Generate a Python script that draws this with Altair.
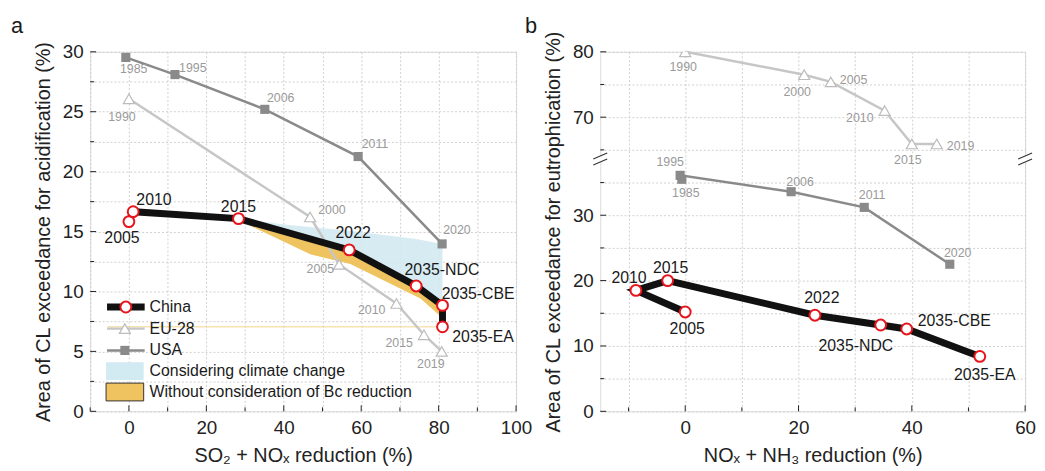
import altair as alt
import pandas as pd

# ---------------- data ----------------
# Panel a : acidification
a_china_labels = ["2005", "2010", "2015", "2022", "2035-NDC", "2035-CBE", "2035-EA"]
a_china_x = [0.0, 1.1, 28.3, 56.9, 74.2, 81.0, 81.0]
a_china_y = [15.83, 16.66, 16.08, 13.47, 10.46, 8.84, 7.05]

a_eu_years = ["1990", "2000", "2005", "2010", "2015", "2019"]
a_eu_x = [0.0, 46.8, 54.3, 69.1, 76.2, 80.8]
a_eu_y = [26.08, 16.22, 12.26, 9.0, 6.39, 5.0]

a_usa_years = ["1985", "1995", "2006", "2011", "2020"]
a_usa_x = [-0.8, 11.9, 35.1, 59.2, 80.9]
a_usa_y = [29.53, 28.1, 25.2, 21.26, 13.97]

# shaded ranges
climate_x = [28.3, 40.0, 56.9, 74.2, 81.0]
climate_top = [16.08, 15.6, 15.07, 14.38, 13.97]
climate_bot = [16.08, 15.01, 13.47, 10.46, 8.84]

bc_x = [1.1, 28.3, 47.0, 57.2, 75.3, 81.0]
bc_top = [16.95, 16.2, 14.37, 13.45, 10.2, 8.84]
bc_bot = [16.6, 15.95, 13.08, 12.3, 9.42, 7.78]

# Panel b : eutrophication
b_china_labels = ["2005", "2010", "2015", "2022", "2035-NDC", "2035-CBE", "2035-EA"]
b_china_x = [0.0, -8.7, -3.1, 22.9, 34.5, 39.1, 52.0]
b_china_y = [15.2, 18.5, 20.0, 14.7, 13.2, 12.6, 8.4]

b_eu_years = ["1990", "2000", "2005", "2010", "2015", "2019"]
b_eu_x = [0.0, 21.0, 25.7, 35.2, 40.0, 44.4]
b_eu_y = [80.0, 76.5, 75.4, 71.0, 65.9, 65.9]

b_usa_years = ["1985", "1995", "2006", "2011", "2020"]
b_usa_x = [-0.6, -0.9, 18.7, 31.6, 46.7]
b_usa_y = [35.5, 36.1, 33.6, 31.2, 22.5]

legend_labels = ["China", "EU-28", "USA", "Considering climate change",
                 "Without consideration of Bc reduction"]

# label offsets (pixels) -- layout only
a_china_off = [(-7, 17), (21, -12), (0, -12), (4, -17), (26, -16), (36, -11), (41, 10)]
a_eu_off = [(-7, 18), (22, -7), (-19, 5), (-25, 7), (-25, 8), (-11, 13)]
a_usa_off = [(8, 12), (18, -7), (16, -11), (17, -13), (15, -14)]
b_china_off = [(2, 17), (-7, -12), (3, -13), (7, -17), (-25, 21), (48, -8), (5, 19)]
b_eu_off = [(-2, 15), (-7, 18), (23, -2), (-25, 7), (-4, 16), (24, 2)]
b_usa_off = [(4, 14), (-10, -13), (9, -10), (8, -12), (8, -11)]

# ---------------- styling ----------------
FONT = "Liberation Sans"
W_A, W_B, H = 430, 429, 363
BREAK_OFFSET = 25          # upper segment of panel b: value - 25
BREAK_AT = 38.6            # continuous position of the axis break
C_EU = "#c6c6c6"
C_USA = "#8a8a8a"
C_LAB = "#9a9a9a"
C_RED = "#e8141c"
C_BLUE = "#d2eaf1"
C_ORANGE = "#efc35f"


def frame(x, y, labels):
    return pd.DataFrame({"x": x, "y": y, "label": labels, "i": list(range(len(x)))})


def grid_axis(values, label_expr, title):
    return alt.Axis(values=values, labelExpr=label_expr, title=title,
                    grid=True, gridColor="#cfcfcf", gridDash=[2, 2], gridWidth=1,
                    ticks=False, domain=False, labelOverlap=False, labelFlush=False,
                    labelFontSize=19, titleFontSize=20, labelPadding=7,
                    titlePadding=9, labelColor="#222", titleColor="#222",
                    titleFontWeight="normal", labelFont=FONT, titleFont=FONT)


# ---------------- panel a ----------------
xa_scale = alt.Scale(domain=[-10, 100], nice=False, zero=False)
ya_scale = alt.Scale(domain=[0, 30], nice=False, zero=False)
xa_axis = grid_axis(list(range(-10, 101, 10)),
                    "datum.value % 20 == 0 ? datum.label : ''",
                    "SO₂ + NOₓ reduction (%)")
ya_axis = grid_axis([i * 2.5 for i in range(13)],
                    "datum.value % 5 == 0 ? datum.label : ''",
                    "Area of CL exceedance for acidification (%)")


def XA(f):
    return alt.X(f, type="quantitative", scale=xa_scale, axis=xa_axis)


def YA(f):
    return alt.Y(f, type="quantitative", scale=ya_scale, axis=ya_axis)


a_china = frame(a_china_x, a_china_y, a_china_labels)
a_eu = frame(a_eu_x, a_eu_y, a_eu_years)
a_usa = frame(a_usa_x, a_usa_y, a_usa_years)
climate = pd.DataFrame({"x": climate_x, "top": climate_top, "bot": climate_bot})
bc = pd.DataFrame({"x": bc_x, "top": bc_top, "bot": bc_bot})

blue = alt.Chart(climate).mark_area(color=C_BLUE, opacity=0.9).encode(
    x=XA("x"), y=YA("top"), y2="bot")
orange = alt.Chart(bc).mark_area(color=C_ORANGE).encode(
    x=XA("x"), y=YA("bot"), y2="top")
ea_df = pd.DataFrame({"x0": [-5.5], "x": [a_china_x[-1]], "y": [a_china_y[-1]]})
ea_rule = alt.Chart(ea_df).mark_rule(color="#f3d38c", strokeWidth=1).encode(
    x=XA("x0"), x2="x", y=YA("y"))


def series(df, offs, xenc, yenc, kind, shift=False, clip_pts=False):
    def base(d):
        c = alt.Chart(d)
        if shift:
            c = c.transform_calculate(
                yc=f"datum.y >= 50 ? datum.y - {BREAK_OFFSET} : datum.y")
        return c
    yf = "yc" if shift else "y"
    enc = dict(x=xenc("x"), y=yenc(yf))
    if kind == "eu":
        line = base(df).mark_line(color=C_EU, strokeWidth=2.5)
        pts = base(df).mark_point(shape="triangle-up", filled=True, fill="white",
                                  stroke="#bcbcbc", strokeWidth=1.2, size=125, opacity=1,
                                  clip=clip_pts)
        tstyle = dict(font=FONT, fontSize=12.5, color=C_LAB, baseline="middle")
    elif kind == "usa":
        line = base(df).mark_line(color=C_USA, strokeWidth=2.5)
        pts = base(df).mark_square(color=C_USA, size=85, opacity=1)
        tstyle = dict(font=FONT, fontSize=12.5, color=C_LAB, baseline="middle")
    else:
        line = base(df).mark_line(color="#111111", strokeWidth=7)
        pts = base(df).mark_point(shape="circle", filled=True, fill="white",
                                  stroke=C_RED, strokeWidth=2, size=120, opacity=1)
        tstyle = dict(font=FONT, fontSize=16, color="#1a1a1a", baseline="middle")
    line = line.encode(order=alt.Order("i:Q"), **enc)
    pts = pts.encode(**enc)
    texts = []
    for k, (dx, dy) in enumerate(offs):
        row = df.iloc[[k]]
        texts.append(base(row).mark_text(dx=dx, dy=dy, **tstyle).encode(
            text="label:N", **enc))
    return line, pts, texts


eu_l, eu_p, eu_t = series(a_eu, a_eu_off, XA, YA, "eu")
us_l, us_p, us_t = series(a_usa, a_usa_off, XA, YA, "usa")
cn_l, cn_p, cn_t = series(a_china, a_china_off, XA, YA, "china")


# inward ticks
def tick_layers(xvals_major, xvals_minor, yvals_major, yvals_minor, xenc, yenc):
    layers = []
    for vals, ln in ((xvals_major, 6), (xvals_minor, 4)):
        layers.append(alt.Chart(pd.DataFrame({"v": vals})).mark_rule(color="#222").encode(
            x=xenc("v"), y=alt.value(H), y2=alt.value(H - ln)))
    for vals, ln in ((yvals_major, 6), (yvals_minor, 4)):
        layers.append(alt.Chart(pd.DataFrame({"v": vals})).mark_rule(color="#222").encode(
            y=yenc("v"), x=alt.value(0), x2=alt.value(ln)))
    return layers


a_ticks = tick_layers([0, 20, 40, 60, 80, 100], [-10, 10, 30, 50, 70, 90],
                      [0, 5, 10, 15, 20, 25, 30], [2.5, 7.5, 12.5, 17.5, 22.5, 27.5],
                      XA, YA)

# legend (drawn inside panel a)
one = pd.DataFrame({"k": [0]})
rows = [257.7, 279.5, 301.5, 322.5, 343.5]
leg = []
leg.append(alt.Chart(one).mark_rule(color="#111111", strokeWidth=7).encode(
    x=alt.value(17), x2=alt.value(55), y=alt.value(rows[0])))
leg.append(alt.Chart(one).mark_point(shape="circle", filled=True, fill="white", stroke=C_RED,
                                     strokeWidth=2, size=120, opacity=1).encode(
    x=alt.value(36), y=alt.value(rows[0])))
leg.append(alt.Chart(one).mark_rule(color=C_EU, strokeWidth=2.5).encode(
    x=alt.value(17), x2=alt.value(55), y=alt.value(rows[1])))
leg.append(alt.Chart(one).mark_point(shape="triangle-up", filled=True, fill="white",
                                     stroke="#bcbcbc", strokeWidth=1.2, size=125, opacity=1).encode(
    x=alt.value(35), y=alt.value(rows[1])))
leg.append(alt.Chart(one).mark_rule(color=C_USA, strokeWidth=2.5).encode(
    x=alt.value(17), x2=alt.value(55), y=alt.value(rows[2])))
leg.append(alt.Chart(one).mark_square(color=C_USA, size=85, opacity=1).encode(
    x=alt.value(35), y=alt.value(rows[2])))
leg.append(alt.Chart(one).mark_rect(color=C_BLUE).encode(
    x=alt.value(16), x2=alt.value(54), y=alt.value(rows[3] - 9), y2=alt.value(rows[3] + 9)))
leg.append(alt.Chart(one).mark_rect(color=C_ORANGE, stroke="#333", strokeWidth=1).encode(
    x=alt.value(16), x2=alt.value(54), y=alt.value(rows[4] - 9), y2=alt.value(rows[4] + 9)))
for lab, yy in zip(legend_labels, rows):
    leg.append(alt.Chart(one).mark_text(font=FONT, fontSize=16, color="#1a1a1a", align="left",
                                        baseline="middle", text=lab).encode(
        x=alt.value(60), y=alt.value(yy)))

tag_a = alt.Chart(one).mark_text(font=FONT, fontSize=22, color="#1a1a1a", text="a",
                                 align="left", baseline="alphabetic").encode(
    x=alt.value(-80), y=alt.value(-19))

panel_a = alt.layer(blue, orange, ea_rule, eu_l, us_l, eu_p, us_p, cn_l, cn_p,
                    *eu_t, *us_t, *cn_t, *a_ticks, *leg, tag_a).properties(width=W_A, height=H)

# ---------------- panel b ----------------
xb_scale = alt.Scale(domain=[-15, 60], nice=False, zero=False)
yb_scale = alt.Scale(domain=[0, 55], nice=False, zero=False)
xb_axis = grid_axis(list(range(-10, 61, 10)),
                    "datum.value % 20 == 0 ? datum.label : ''",
                    "NOₓ + NH₃ reduction (%)")
yb_axis = grid_axis(list(range(0, 56, 5)),
                    "datum.value == 45 ? '70' : datum.value == 55 ? '80' : "
                    "(datum.value % 10 == 0 && datum.value <= 30) ? datum.label : ''",
                    "Area of CL exceedance for eutrophication (%)")


def XB(f):
    return alt.X(f, type="quantitative", scale=xb_scale, axis=xb_axis)


def YB(f):
    return alt.Y(f, type="quantitative", scale=yb_scale, axis=yb_axis)


b_china = frame(b_china_x, b_china_y, b_china_labels)
b_eu = frame(b_eu_x, b_eu_y, b_eu_years)
b_usa = frame(b_usa_x, b_usa_y, b_usa_years)

beu_l, beu_p, beu_t = series(b_eu, b_eu_off, XB, YB, "eu", shift=True, clip_pts=True)
bus_l, bus_p, bus_t = series(b_usa, b_usa_off, XB, YB, "usa", shift=True)
bcn_l, bcn_p, bcn_t = series(b_china, b_china_off, XB, YB, "china", shift=True)

b_ticks = tick_layers([0, 20, 40, 60], [-10, 10, 30, 50],
                      [0, 10, 20, 30, 45, 55], [5, 15, 25, 35, 40, 50],
                      XB, YB)

yb_px = H * (1 - BREAK_AT / 55)
brk = []
for xx in (0, W_B):
    brk.append(alt.Chart(one).mark_rule(color="white", strokeWidth=5).encode(
        x=alt.value(xx), y=alt.value(yb_px - 3), y2=alt.value(yb_px + 3)))
    for c in (yb_px - 3, yb_px + 3):
        brk.append(alt.Chart(one).mark_rule(color="#333", strokeWidth=1.1).encode(
            x=alt.value(xx - 7), x2=alt.value(xx + 7),
            y=alt.value(c + 3), y2=alt.value(c - 3)))

tag_b = alt.Chart(one).mark_text(font=FONT, fontSize=22, color="#1a1a1a", text="b",
                                 align="left", baseline="alphabetic").encode(
    x=alt.value(-76), y=alt.value(-19))

panel_b = alt.layer(beu_l, bus_l, beu_p, bus_p, bcn_l, bcn_p, *beu_t, *bus_t, *bcn_t,
                    *b_ticks, *brk, tag_b).properties(width=W_B, height=H)

chart = alt.hconcat(panel_a, panel_b, spacing=85, bounds="flush").properties(
    padding={"left": 2, "top": 4, "right": 0, "bottom": 0}
).configure_view(stroke="#222", strokeWidth=1).configure(font=FONT)

chart.save("out.html", embed_options={"renderer": "svg", "actions": False})
